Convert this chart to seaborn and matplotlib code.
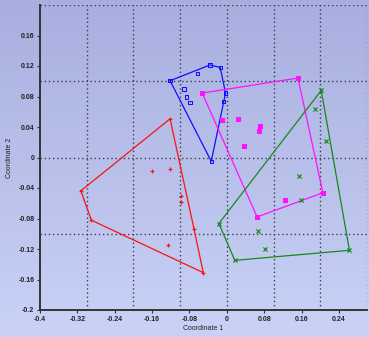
import numpy as np
import pandas as pd
import matplotlib
matplotlib.use("Agg")
import matplotlib.pyplot as plt
import seaborn as sns

# NMDS coordinates per group
red_x = [-0.1216, -0.3125, -0.2901, -0.0505, -0.0705, -0.1593, -0.1210, -0.0988, -0.0988, -0.1266]
red_y = [0.0507, -0.0437, -0.0822, -0.1510, -0.0932, -0.0182, -0.0147, -0.0507, -0.0586, -0.1147]

blue_x = [-0.1216, -0.0363, -0.0143, -0.0028, -0.0334, -0.0633, -0.0917, -0.0860, -0.0789, -0.0078]
blue_y = [0.1007, 0.1213, 0.1182, 0.0845, -0.0050, 0.1099, 0.0897, 0.0792, 0.0726, 0.0730]

magenta_x = [-0.0527, 0.1522, 0.2055, 0.0647, -0.0100, 0.0228, 0.0711, 0.0697, 0.0370, 0.1245]
magenta_y = [0.0845, 0.1042, -0.0463, -0.0779, 0.0489, 0.0511, 0.0414, 0.0353, 0.0147, -0.0559]

green_x = [0.2020, 0.2624, 0.0171, -0.0171, 0.1884, 0.2126, 0.1540, 0.1579, 0.0676, 0.0811]
green_y = [0.0879, -0.1217, -0.1349, -0.0866, 0.0642, 0.0213, -0.0243, -0.0559, -0.0967, -0.1195]

groups = ["red", "blue", "magenta", "green"]
colors = {"red": "#ff1010", "blue": "#1010ff", "magenta": "#ff10ff", "green": "#158a15"}
markers = {"red": "+", "blue": "s", "magenta": "s", "green": "x"}

x_ticks = [-0.4, -0.32, -0.24, -0.16, -0.08, 0, 0.08, 0.16, 0.24]
x_tick_labels = ["-0.4", "-0.32", "-0.24", "-0.16", "-0.08", "0", "0.08", "0.16", "0.24"]
y_ticks = [-0.2, -0.16, -0.12, -0.08, -0.04, 0, 0.04, 0.08, 0.12, 0.16]
y_tick_labels = ["-0.2", "-0.16", "-0.12", "-0.08", "-0.04", "0", "0.04", "0.08", "0.12", "0.16"]

df = pd.concat([
    pd.DataFrame({"Coordinate 1": red_x, "Coordinate 2": red_y, "group": "red"}),
    pd.DataFrame({"Coordinate 1": blue_x, "Coordinate 2": blue_y, "group": "blue"}),
    pd.DataFrame({"Coordinate 1": magenta_x, "Coordinate 2": magenta_y, "group": "magenta"}),
    pd.DataFrame({"Coordinate 1": green_x, "Coordinate 2": green_y, "group": "green"}),
], ignore_index=True)


def convex_hull(points):
    pts = sorted(set(points))
    if len(pts) <= 2:
        return pts

    def cross(o, a, b):
        return (a[0] - o[0]) * (b[1] - o[1]) - (a[1] - o[1]) * (b[0] - o[0])

    lower, upper = [], []
    for p in pts:
        while len(lower) >= 2 and cross(lower[-2], lower[-1], p) <= 0:
            lower.pop()
        lower.append(p)
    for p in reversed(pts):
        while len(upper) >= 2 and cross(upper[-2], upper[-1], p) <= 0:
            upper.pop()
        upper.append(p)
    return lower[:-1] + upper[:-1]


sns.set_style("ticks")
plt.rcParams["font.family"] = ["Liberation Sans", "DejaVu Sans"]

fig = plt.figure(figsize=(3.69, 3.37), dpi=100)

# vertical gradient background over the whole figure
bg = fig.add_axes([0, 0, 1, 1], zorder=-10)
grad = np.linspace(0, 1, 256).reshape(-1, 1)
top = np.array([0xa8, 0xaf, 0xdf]) / 255
bottom = np.array([0xc9, 0xd2, 0xf6]) / 255
img = top + (bottom - top) * grad[..., None]
bg.imshow(img, aspect="auto", extent=[0, 1, 0, 1], origin="upper")
bg.set_axis_off()

ax = fig.add_axes([40 / 369, 27 / 337, 327 / 369, 305 / 337])
ax.set_facecolor("none")

# dotted grid every 0.1
for gx in np.arange(-0.3, 0.31, 0.1):
    ax.axvline(gx, color="#3c3c55", lw=1.0, ls=(0, (1, 2.0)), zorder=1)
for gy in np.arange(-0.1, 0.21, 0.1):
    ax.axhline(gy, color="#3c3c55", lw=1.0, ls=(0, (1, 2.0)), zorder=1)

# convex hulls
for g in groups:
    sub = df[df["group"] == g]
    hull = convex_hull(list(zip(sub["Coordinate 1"], sub["Coordinate 2"])))
    hull.append(hull[0])
    hx, hy = zip(*hull)
    ax.plot(hx, hy, color=colors[g], lw=0.9, zorder=2)

for g in groups:
    sub = df[df["group"] == g]
    if markers[g] == "s":
        sns.scatterplot(data=sub, x="Coordinate 1", y="Coordinate 2", ax=ax,
                        marker="s", s=5.5, facecolor=colors[g] if g == "magenta" else "none",
                        edgecolor=colors[g], linewidth=0.75, zorder=3, legend=False)
    else:
        sns.scatterplot(data=sub, x="Coordinate 1", y="Coordinate 2", ax=ax,
                        marker=markers[g], s=9, color=colors[g], linewidth=0.85,
                        zorder=3, legend=False)

ax.set_xlim(-0.4, 0.3)
ax.set_ylim(-0.2, 0.2)
ax.set_xticks(x_ticks)
ax.set_xticklabels(x_tick_labels)
ax.set_yticks(y_ticks)
ax.set_yticklabels(y_tick_labels)
ax.tick_params(axis="both", labelsize=5, width=0.8, length=2.5, color="#333333",
               labelcolor="#222222", pad=1.5)
for lab in ax.get_xticklabels() + ax.get_yticklabels():
    lab.set_fontweight("bold")

for side in ["top", "right"]:
    ax.spines[side].set_visible(False)
for side in ["left", "bottom"]:
    ax.spines[side].set_color("#333333")
    ax.spines[side].set_linewidth(1.4)

ax.set_xlabel("Coordinate 1", fontsize=5, color="#222222", labelpad=2)
ax.set_ylabel("Coordinate 2", fontsize=5, color="#222222", labelpad=4)

fig.savefig("out.png", dpi=100)
